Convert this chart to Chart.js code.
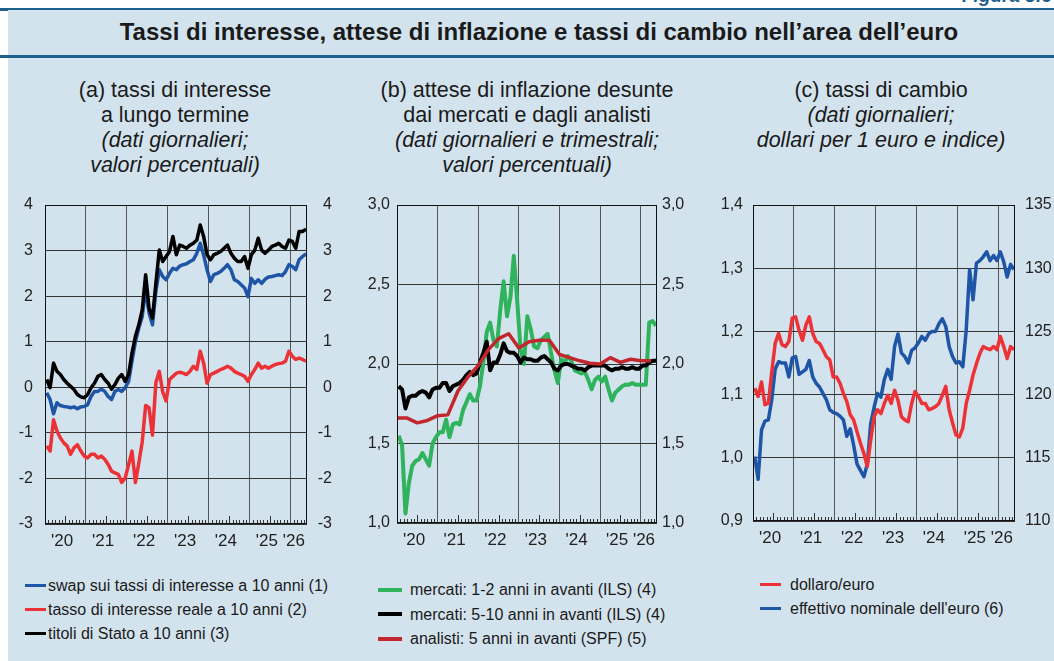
<!DOCTYPE html>
<html>
<head>
<meta charset="utf-8">
<script src="https://cdn.jsdelivr.net/npm/chart.js@4.4.1/dist/chart.umd.min.js"></script>
<style>
  body { margin:0; width:1054px; height:661px; overflow:hidden; position:relative; background:#fff;
         font-family:'Liberation Sans', Arial, Helvetica, sans-serif; color:#1a1a1a; }
  .abs { position:absolute; }
  #box { left:8px; top:10px; right:0; bottom:0; background:#d3e3ee; }
  .rule { left:0; right:0; height:3px; background:#1f5f8b; }
  #fig { left:962px; top:-15px; font-size:19px; font-weight:bold; font-style:italic; color:#1f5f8b; }
  #title { left:24px; width:1030px; top:18px; text-align:center; font-weight:bold; font-size:24px; line-height:28px; }
  .sub { top:78px; width:360px; text-align:center; font-size:21.5px; line-height:25px; }
  canvas { position:absolute; top:195px; }
  .leg { font-size:16px; line-height:20px; white-space:nowrap; }
  .mk { display:inline-block; vertical-align:middle; margin-right:2px; position:relative; top:-1px; }
</style>
</head>
<body>
<div id="fig" class="abs">Figura 3.6</div>
<div class="abs rule" style="top:8px"></div>
<div id="box" class="abs"></div>
<div id="title" class="abs">Tassi di interesse, attese di inflazione e tassi di cambio nell’area dell’euro</div>
<div class="abs rule" style="top:55px"></div>

<div class="abs sub" style="left:-5px">(a) tassi di interesse<br>a lungo termine<br><i>(dati giornalieri;<br>valori percentuali)</i></div>
<div class="abs sub" style="left:347px">(b) attese di inflazione desunte<br>dai mercati e dagli analisti<br><i>(dati giornalieri e trimestrali;<br>valori percentuali)</i></div>
<div class="abs sub" style="left:701px">(c) tassi di cambio<br><i>(dati giornalieri;<br>dollari per 1 euro e indice)</i></div>

<canvas id="chartA" width="332" height="370" style="left:0px"></canvas>
<canvas id="chartB" width="355" height="370" style="left:350px"></canvas>
<canvas id="chartC" width="349" height="370" style="left:705px"></canvas>

<script>
// date axis: mid-month points from Jan 2020 to May 2026
const months = [];
for (let i = 0; i < 77; i++) months.push(2020 + (i + 0.5) / 12);
const yearLabels = ["'20", "'21", "'22", "'23", "'24", "'25", "'26"];

// (a) tassi di interesse a lungo termine
const swap10y = [-0.12,-0.27,-0.58,-0.34,-0.40,-0.42,-0.43,-0.45,-0.43,-0.47,-0.43,-0.42,
  -0.38,-0.20,-0.09,-0.09,-0.04,-0.09,-0.20,-0.27,-0.09,-0.05,-0.09,-0.01,
  0.13,0.57,1.00,1.30,1.55,2.15,1.63,1.37,2.10,2.58,2.43,2.36,
  2.50,2.61,2.58,2.66,2.69,2.71,2.76,2.80,2.94,3.16,2.90,2.58,
  2.32,2.47,2.50,2.54,2.61,2.69,2.58,2.36,2.32,2.25,2.18,1.99,
  2.39,2.28,2.36,2.28,2.37,2.42,2.43,2.45,2.47,2.45,2.54,2.69,
  2.65,2.58,2.80,2.87,2.93];
const real10y = [-1.29,-1.40,-0.71,-0.96,-1.11,-1.22,-1.29,-1.47,-1.33,-1.26,-1.40,-1.51,
  -1.55,-1.47,-1.47,-1.55,-1.51,-1.58,-1.69,-1.84,-1.88,-1.91,-2.09,-1.99,
  -1.70,-1.40,-2.09,-1.66,-1.20,-0.40,-0.45,-1.05,0.10,0.35,-0.10,-0.30,
  0.17,0.24,0.31,0.33,0.31,0.28,0.35,0.46,0.39,0.79,0.53,0.09,
  0.28,0.31,0.35,0.39,0.42,0.46,0.42,0.35,0.31,0.28,0.24,0.13,
  0.28,0.39,0.53,0.42,0.46,0.42,0.46,0.50,0.52,0.53,0.57,0.79,
  0.68,0.61,0.64,0.61,0.57];
const govt10y = [0.17,-0.01,0.53,0.35,0.28,0.17,0.09,0.02,-0.05,-0.16,-0.21,-0.23,
  -0.16,-0.01,0.09,0.24,0.28,0.17,0.09,-0.04,0.06,0.20,0.28,0.13,
  0.28,0.75,1.12,1.37,1.70,2.47,1.74,1.52,2.28,3.01,2.76,2.87,
  2.98,3.31,2.91,3.12,3.09,3.05,3.12,3.16,3.23,3.56,3.31,2.91,
  2.80,2.91,2.94,2.98,3.05,3.12,2.94,2.83,2.76,2.76,2.87,2.61,
  2.91,3.01,3.27,3.01,2.94,3.01,3.09,3.12,3.16,3.09,3.05,3.23,
  3.20,3.05,3.42,3.42,3.47];

// (b) attese di inflazione
const ils12 = [1.55,1.49,1.06,1.25,1.36,1.39,1.40,1.44,1.40,1.36,1.50,1.54,
  1.57,1.57,1.65,1.54,1.62,1.63,1.62,1.71,1.76,1.81,1.77,1.77,
  1.86,2.01,2.20,2.26,2.15,2.11,2.34,2.52,2.30,2.42,2.68,2.40,
  2.09,2.00,2.30,2.22,2.11,2.10,2.15,2.17,2.19,2.07,1.96,1.88,
  2.03,2.01,2.05,2.02,1.96,1.95,1.94,1.95,1.90,1.84,1.90,1.92,
  1.89,1.92,1.84,1.77,1.82,1.84,1.86,1.87,1.87,1.88,1.87,1.87,
  1.87,1.87,2.26,2.27,2.24];
const ils510 = [1.86,1.84,1.72,1.79,1.80,1.80,1.82,1.83,1.82,1.79,1.84,1.85,
  1.85,1.88,1.88,1.83,1.86,1.87,1.88,1.90,1.93,1.95,1.93,1.94,
  2.01,2.07,2.14,1.96,2.01,2.01,2.06,2.13,2.08,2.07,2.07,2.05,
  2.01,2.04,2.03,2.03,2.02,2.02,2.04,2.05,2.03,2.01,1.97,1.96,
  1.99,2.00,2.00,1.99,1.98,1.97,1.97,1.96,1.98,1.99,1.99,1.99,
  1.99,1.99,1.97,1.96,1.97,1.97,1.98,1.97,1.97,1.98,1.97,1.97,
  1.99,1.99,2.01,2.02,2.02];
const spfDates = [2020.0,2020.25,2020.5,2020.75,2021.0,2021.25,2021.5,2021.75,2022.0,2022.25,2022.5,2022.75,
  2023.0,2023.25,2023.5,2023.75,2024.0,2024.25,2024.5,2024.75,2025.0,2025.25,2025.5,2025.75,2026.0,2026.25];
const spf5y = [1.66,1.66,1.63,1.645,1.675,1.68,1.83,1.92,1.99,2.09,2.16,2.19,
  2.10,2.14,2.15,2.15,2.06,2.04,2.02,2.005,2.0,2.04,2.01,2.03,2.02,2.02];

// (c) tassi di cambio
const usdEur = [1.110,1.097,1.120,1.084,1.086,1.136,1.181,1.197,1.179,1.176,1.184,1.221,
  1.223,1.202,1.186,1.210,1.223,1.197,1.184,1.181,1.171,1.160,1.155,1.128,
  1.128,1.118,1.102,1.089,1.068,1.060,1.041,1.023,1.007,0.986,1.028,1.065,
  1.076,1.070,1.086,1.099,1.086,1.107,1.091,1.065,1.060,1.057,1.086,1.105,
  1.097,1.086,1.086,1.076,1.078,1.081,1.086,1.099,1.113,1.076,1.055,1.036,
  1.033,1.047,1.086,1.107,1.131,1.149,1.165,1.176,1.173,1.171,1.176,1.171,
  1.192,1.176,1.157,1.176,1.171];
const neer = [115.1,113.3,117.2,117.9,118.0,119.6,122.0,122.6,122.5,122.5,121.4,122.9,
  123.0,121.6,121.8,122.0,122.7,121.4,120.9,120.6,120.1,119.6,118.8,118.6,
  118.5,118.3,118.0,116.7,117.3,116.0,114.5,114.0,113.5,114.5,117.7,119.0,
  120.1,119.8,121.2,122.0,121.2,123.8,124.8,123.3,123.0,122.5,123.5,123.7,
  124.1,124.6,124.3,124.8,125.0,125.0,125.6,126.0,125.4,123.8,123.0,122.5,
  122.6,122.2,125.1,129.9,127.5,130.4,130.6,130.9,131.3,130.6,131.0,130.6,
  131.3,130.5,129.3,130.3,129.9];

const FONT = "'Liberation Sans', Arial, Helvetica, sans-serif";
const BLUE = '#1f55a6', RED = '#ec3237', GREEN = '#2fb35d', DARKRED = '#c1272d';

function pts(xs, ys) { return xs.map((x, i) => ({ x: x, y: ys[i] })); }

// year grid lines + year labels placed near mid-year
const labelAt = yearLabels.map((l, i) => i < 6 ? 2020 + i + 0.42 : 2026.08);

const frameTicks = {
  id: 'frameTicks',
  afterDraw(chart) {
    const { ctx, chartArea: a, scales: { x } } = chart;
    ctx.save();
    ctx.strokeStyle = '#333';
    ctx.lineWidth = 1;
    ctx.beginPath();
    for (let y = 2020; y < 2027; y++) {
      for (let m = 1; m < 12; m++) {
        const v = y + m / 12;
        if (v >= x.max) break;
        const px = Math.round(x.getPixelForValue(v)) + 0.5;
        ctx.moveTo(px, a.bottom);
        ctx.lineTo(px, a.bottom - (m === 6 ? 8 : 4));
      }
    }
    ctx.stroke();
    ctx.strokeStyle = '#111';
    ctx.strokeRect(Math.round(a.left) + 0.5, Math.round(a.top) + 0.5, Math.round(a.width) - 1, Math.round(a.height) - 1);
    ctx.restore();
  }
};

function comma(d) { return v => v.toFixed(d).replace('.', ','); }

function makePanel(id, o) {
  const yFont = { family: FONT, size: 16 };
  const xFont = { family: FONT, size: 17 };
  new Chart(document.getElementById(id), {
    type: 'line',
    data: { datasets: o.datasets },
    options: {
      responsive: false, animation: false, devicePixelRatio: 1,
      layout: { padding: { top: 10 } },
      plugins: { legend: { display: false }, tooltip: { enabled: false } },
      elements: { point: { radius: 0 }, line: { tension: 0, borderJoinStyle: 'round' } },
      scales: {
        x: {
          type: 'linear', min: 2020, max: 2026.4,
          afterBuildTicks: s => {
            const t = [2020, 2021, 2022, 2023, 2024, 2025, 2026].concat(labelAt);
            s.ticks = t.sort((a, b) => a - b).map(v => ({ value: v }));
          },
          grid: { color: c => (c.tick && Number.isInteger(c.tick.value)) ? '#555' : 'rgba(0,0,0,0)', drawTicks: false },
          border: { display: false },
          ticks: {
            autoSkip: false, maxRotation: 0, padding: 7, font: xFont, color: '#222',
            callback: v => { const i = labelAt.indexOf(v); return i >= 0 ? yearLabels[i] : ''; }
          },
          afterFit: s => { s.height = o.xH; s.paddingLeft = 0; s.paddingRight = 0; }
        },
        y: {
          position: 'left', min: o.yMin, max: o.yMax,
          grid: { color: '#333', drawTicks: false },
          border: { display: false },
          ticks: { stepSize: o.yStep, padding: o.padL, font: yFont, color: '#222', callback: o.fmtL },
          afterFit: s => { s.width = o.wL; s.paddingTop = 0; s.paddingBottom = 0; }
        },
        y2: {
          position: 'right', min: o.y2Min, max: o.y2Max,
          grid: { display: false, drawTicks: false },
          border: { display: false },
          ticks: { stepSize: o.y2Step, padding: o.padR, crossAlign: o.alignR, font: yFont, color: '#222', callback: o.fmtR },
          afterFit: s => { s.width = o.wR; s.paddingTop = 0; s.paddingBottom = 0; }
        }
      }
    },
    plugins: [frameTicks]
  });
}

function line(data, color, w, axis) {
  return { data: data, borderColor: color, borderWidth: w, yAxisID: axis || 'y', fill: false };
}

makePanel('chartA', {
  datasets: [
    line(pts(months, govt10y), '#000', 3.5),
    line(pts(months, swap10y), BLUE, 3.5),
    line(pts(months, real10y), RED, 3.5)
  ],
  yMin: -3, yMax: 4, yStep: 1, y2Min: -3, y2Max: 4, y2Step: 1,
  fmtL: v => String(v), fmtR: v => String(v),
  wL: 45, wR: 25, padL: 12, padR: 10, alignR: 'far', xH: 41
});

makePanel('chartB', {
  datasets: [
    line(pts(spfDates, spf5y), DARKRED, 3.5),
    line(pts(months, ils510), '#000', 4),
    line(pts(months, ils12), GREEN, 4)
  ],
  yMin: 1, yMax: 3, yStep: 0.5, y2Min: 1, y2Max: 3, y2Step: 0.5,
  fmtL: comma(1), fmtR: comma(1),
  wL: 47, wR: 48, padL: 7, padR: 5, alignR: 'near', xH: 42
});

makePanel('chartC', {
  datasets: [
    line(pts(months, usdEur), RED, 3.5),
    line(pts(months, neer), BLUE, 3.5, 'y2')
  ],
  yMin: 0.9, yMax: 1.4, yStep: 0.1, y2Min: 110, y2Max: 135, y2Step: 5,
  fmtL: comma(1), fmtR: v => String(v),
  wL: 48, wR: 39, padL: 10, padR: 10, alignR: 'near', xH: 44
});

// legends
const legends = [
  { left: 25, top: 576, step: 24, mw: 21, mh: 3, items: [
    ['swap sui tassi di interesse a 10 anni (1)', BLUE],
    ['tasso di interesse reale a 10 anni (2)', RED],
    ['titoli di Stato a 10 anni (3)', '#000']] },
  { left: 378, top: 580, step: 24.5, mw: 24, mh: 4, gap: 8, items: [
    ['mercati: 1-2 anni in avanti (ILS) (4)', GREEN],
    ['mercati: 5-10 anni in avanti (ILS) (4)', '#000'],
    ['analisti: 5 anni in avanti (SPF) (5)', DARKRED]] },
  { left: 760, top: 575, step: 24, mw: 21, mh: 3, gap: 9, items: [
    ['dollaro/euro', RED],
    ["effettivo nominale dell'euro (6)", BLUE]] }
];
legends.forEach(g => {
  g.items.forEach((it, i) => {
    const d = document.createElement('div');
    d.className = 'abs leg';
    d.style.left = g.left + 'px';
    d.style.top = (g.top + i * g.step) + 'px';
    const mk = document.createElement('span');
    mk.className = 'mk';
    mk.style.width = g.mw + 'px';
    mk.style.height = g.mh + 'px';
    mk.style.background = it[1];
    mk.style.marginRight = (g.gap || 2) + 'px';
    d.appendChild(mk);
    d.appendChild(document.createTextNode(it[0]));
    document.body.appendChild(d);
  });
});
</script>
</body>
</html>
